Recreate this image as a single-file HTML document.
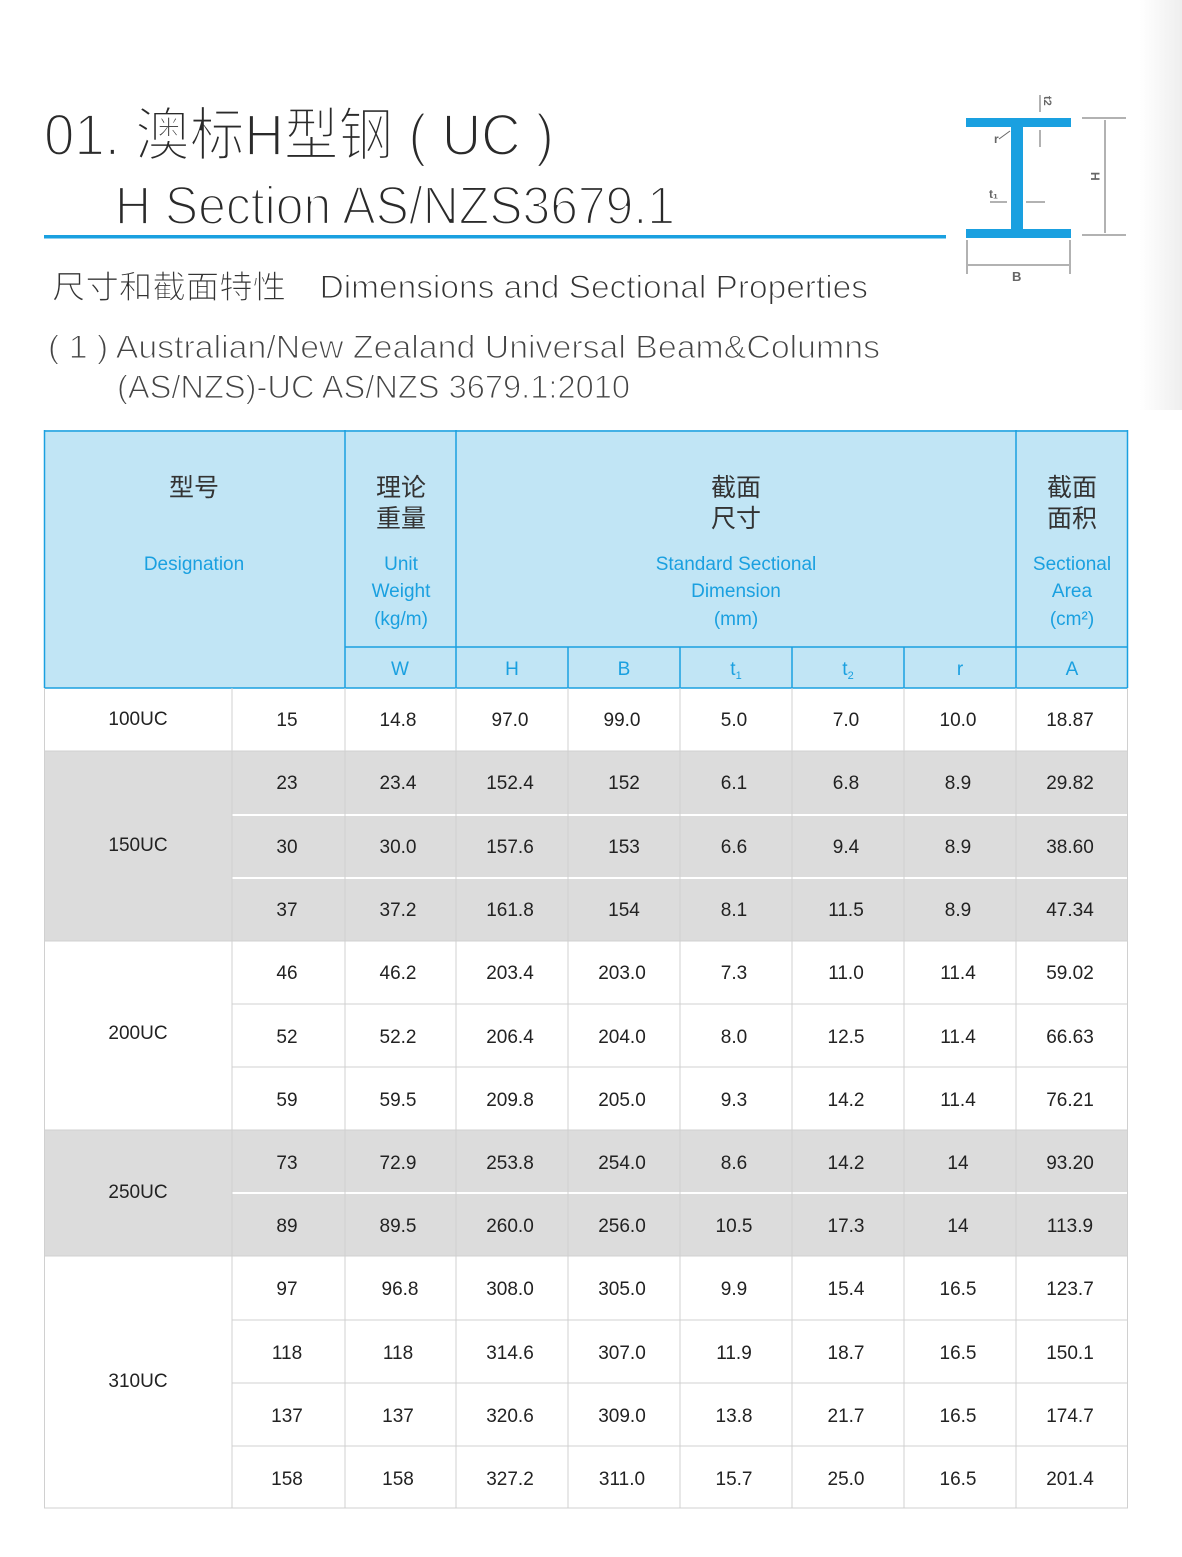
<!DOCTYPE html>
<html><head><meta charset="utf-8"><style>
html,body{margin:0;padding:0;background:#fff;}
svg{display:block;}
.t{font-family:"Liberation Sans","Noto Sans CJK SC",sans-serif;stroke:#fff;paint-order:normal;}
.d{font-family:"Liberation Sans",sans-serif;font-size:19px;fill:#222;text-anchor:middle;}
.b{font-family:"Liberation Sans",sans-serif;font-size:19px;fill:#1aa0e0;text-anchor:middle;}
.c{font-family:"Noto Sans CJK SC",sans-serif;font-size:25px;fill:#333;text-anchor:middle;}
</style></head><body>
<svg width="1182" height="1557" viewBox="0 0 1182 1557" xmlns="http://www.w3.org/2000/svg">
<defs><linearGradient id="g" x1="0" x2="1"><stop offset="0" stop-color="#fff"/><stop offset="1" stop-color="#eeeeee"/></linearGradient></defs>
<rect x="1140" y="0" width="42" height="410" fill="url(#g)"/>
<text class="t" x="44" y="155" font-size="58" fill="#2a2a2a" stroke-width="2.2" textLength="510" lengthAdjust="spacingAndGlyphs">01. 澳标H型钢 ( UC )</text>
<text class="t" x="115" y="224" font-size="54" fill="#2a2a2a" stroke-width="2.2" textLength="560" lengthAdjust="spacingAndGlyphs">H Section  AS/NZS3679.1</text>
<rect x="44" y="235" width="902" height="3.5" fill="#1aa0e0"/>
<text class="t" x="52" y="298" font-size="32" fill="#333" stroke-width="1.1" textLength="816" lengthAdjust="spacingAndGlyphs">尺寸和截面特性　Dimensions and Sectional Properties</text>
<text class="t" x="48" y="358" font-size="32" fill="#444" stroke-width="1.1" textLength="832" lengthAdjust="spacingAndGlyphs">( 1 ) Australian/New Zealand Universal Beam&amp;Columns</text>
<text class="t" x="117" y="398" font-size="32" fill="#444" stroke-width="1.1" textLength="513" lengthAdjust="spacingAndGlyphs">(AS/NZS)-UC  AS/NZS 3679.1:2010</text>
<rect x="966" y="118" width="105" height="9" fill="#1aa0e0"/>
<rect x="966" y="229" width="105" height="9" fill="#1aa0e0"/>
<rect x="1011" y="126" width="12" height="104" fill="#1aa0e0"/>
<g stroke="#666" stroke-width="1" fill="none">
<line x1="1082" y1="118" x2="1126" y2="118"/><line x1="1082" y1="235" x2="1126" y2="235"/>
<line x1="1105" y1="120" x2="1105" y2="233"/>
<line x1="967" y1="240" x2="967" y2="274"/><line x1="1070" y1="240" x2="1070" y2="274"/>
<line x1="968" y1="265" x2="1069" y2="265"/>
<line x1="1040" y1="95" x2="1040" y2="112"/><line x1="1040" y1="130" x2="1040" y2="147"/>
<line x1="990" y1="202" x2="1007" y2="202"/><line x1="1026" y1="202" x2="1045" y2="202"/>
<line x1="999" y1="139" x2="1010" y2="131"/>
</g>
<text x="1012" y="281" font-family="Liberation Sans" font-weight="bold" font-size="13" fill="#666">B</text>
<text x="994" y="143" font-family="Liberation Sans" font-weight="bold" font-size="12" fill="#666">r</text>
<text x="989" y="198" font-family="Liberation Sans" font-weight="bold" font-size="12" fill="#666">t₁</text>
<text x="0" y="0" font-family="Liberation Sans" font-weight="bold" font-size="12" fill="#666" transform="translate(1091,172) rotate(90)">H</text>
<text x="0" y="0" font-family="Liberation Sans" font-weight="bold" font-size="11" fill="#666" transform="translate(1044,96) rotate(90)">t2</text>
<rect x="44" y="430" width="1084" height="258" fill="#c1e5f5"/>
<g stroke="#1aa0e0" stroke-width="1.5">
<line x1="44" y1="431" x2="1128" y2="431"/><line x1="44" y1="688" x2="1128" y2="688"/>
<line x1="345" y1="647" x2="1128" y2="647"/>
<line x1="44.5" y1="430" x2="44.5" y2="688"/><line x1="1127.5" y1="430" x2="1127.5" y2="688"/>
<line x1="345" y1="430" x2="345" y2="688"/><line x1="456" y1="430" x2="456" y2="688"/><line x1="1016" y1="430" x2="1016" y2="688"/>
<line x1="568" y1="647" x2="568" y2="688"/><line x1="680" y1="647" x2="680" y2="688"/><line x1="792" y1="647" x2="792" y2="688"/><line x1="904" y1="647" x2="904" y2="688"/>
</g>
<text class="c" x="194" y="496">型号</text>
<text class="b" x="194" y="570">Designation</text>
<text class="c" x="401" y="496">理论</text><text class="c" x="401" y="527">重量</text>
<text class="b" x="401" y="570">Unit</text><text class="b" x="401" y="597">Weight</text><text class="b" x="401" y="625">(kg/m)</text>
<text class="c" x="736" y="496">截面</text><text class="c" x="736" y="527">尺寸</text>
<text class="b" x="736" y="570">Standard Sectional</text><text class="b" x="736" y="597">Dimension</text><text class="b" x="736" y="625">(mm)</text>
<text class="c" x="1072" y="496">截面</text><text class="c" x="1072" y="527">面积</text>
<text class="b" x="1072" y="570">Sectional</text><text class="b" x="1072" y="597">Area</text><text class="b" x="1072" y="625">(cm²)</text>
<text class="b" x="400" y="675">W</text><text class="b" x="512" y="675">H</text><text class="b" x="624" y="675">B</text>
<text class="b" x="736" y="675">t<tspan font-size="11" dy="4">1</tspan></text>
<text class="b" x="848" y="675">t<tspan font-size="11" dy="4">2</tspan></text>
<text class="b" x="960" y="675">r</text><text class="b" x="1072" y="675">A</text>
<rect x="44" y="751" width="1084" height="190" fill="#dcdcdc"/>
<rect x="44" y="1130" width="1084" height="126" fill="#dcdcdc"/>
<g stroke="#d0d0d0" stroke-width="1">
<line x1="232" y1="815" x2="1128" y2="815" stroke="#fff" stroke-width="2"/>
<line x1="232" y1="878" x2="1128" y2="878" stroke="#fff" stroke-width="2"/>
<line x1="232" y1="1193" x2="1128" y2="1193" stroke="#fff" stroke-width="2"/>
<line x1="44" y1="751" x2="1128" y2="751"/><line x1="44" y1="941" x2="1128" y2="941"/>
<line x1="232" y1="1004" x2="1128" y2="1004"/><line x1="232" y1="1067" x2="1128" y2="1067"/>
<line x1="44" y1="1130" x2="1128" y2="1130"/><line x1="44" y1="1256" x2="1128" y2="1256"/>
<line x1="232" y1="1320" x2="1128" y2="1320"/><line x1="232" y1="1383" x2="1128" y2="1383"/><line x1="232" y1="1446" x2="1128" y2="1446"/>
<line x1="44" y1="1508" x2="1128" y2="1508"/>
<line x1="44.5" y1="688" x2="44.5" y2="1508"/><line x1="1127.5" y1="688" x2="1127.5" y2="1508"/>
<line x1="232" y1="688" x2="232" y2="1508"/><line x1="345" y1="688" x2="345" y2="1508"/><line x1="456" y1="688" x2="456" y2="1508"/>
<line x1="568" y1="688" x2="568" y2="1508"/><line x1="680" y1="688" x2="680" y2="1508"/><line x1="792" y1="688" x2="792" y2="1508"/>
<line x1="904" y1="688" x2="904" y2="1508"/><line x1="1016" y1="688" x2="1016" y2="1508"/>
</g>
<text class="d" x="138" y="725">100UC</text><text class="d" x="138" y="851">150UC</text><text class="d" x="138" y="1039">200UC</text><text class="d" x="138" y="1198">250UC</text><text class="d" x="138" y="1387">310UC</text>
<g>
<text class="d" y="726"><tspan x="287">15</tspan><tspan x="398">14.8</tspan><tspan x="510">97.0</tspan><tspan x="622">99.0</tspan><tspan x="734">5.0</tspan><tspan x="846">7.0</tspan><tspan x="958">10.0</tspan><tspan x="1070">18.87</tspan></text>
<text class="d" y="789"><tspan x="287">23</tspan><tspan x="398">23.4</tspan><tspan x="510">152.4</tspan><tspan x="624">152</tspan><tspan x="734">6.1</tspan><tspan x="846">6.8</tspan><tspan x="958">8.9</tspan><tspan x="1070">29.82</tspan></text>
<text class="d" y="853"><tspan x="287">30</tspan><tspan x="398">30.0</tspan><tspan x="510">157.6</tspan><tspan x="624">153</tspan><tspan x="734">6.6</tspan><tspan x="846">9.4</tspan><tspan x="958">8.9</tspan><tspan x="1070">38.60</tspan></text>
<text class="d" y="916"><tspan x="287">37</tspan><tspan x="398">37.2</tspan><tspan x="510">161.8</tspan><tspan x="624">154</tspan><tspan x="734">8.1</tspan><tspan x="846">11.5</tspan><tspan x="958">8.9</tspan><tspan x="1070">47.34</tspan></text>
<text class="d" y="979"><tspan x="287">46</tspan><tspan x="398">46.2</tspan><tspan x="510">203.4</tspan><tspan x="622">203.0</tspan><tspan x="734">7.3</tspan><tspan x="846">11.0</tspan><tspan x="958">11.4</tspan><tspan x="1070">59.02</tspan></text>
<text class="d" y="1043"><tspan x="287">52</tspan><tspan x="398">52.2</tspan><tspan x="510">206.4</tspan><tspan x="622">204.0</tspan><tspan x="734">8.0</tspan><tspan x="846">12.5</tspan><tspan x="958">11.4</tspan><tspan x="1070">66.63</tspan></text>
<text class="d" y="1106"><tspan x="287">59</tspan><tspan x="398">59.5</tspan><tspan x="510">209.8</tspan><tspan x="622">205.0</tspan><tspan x="734">9.3</tspan><tspan x="846">14.2</tspan><tspan x="958">11.4</tspan><tspan x="1070">76.21</tspan></text>
<text class="d" y="1169"><tspan x="287">73</tspan><tspan x="398">72.9</tspan><tspan x="510">253.8</tspan><tspan x="622">254.0</tspan><tspan x="734">8.6</tspan><tspan x="846">14.2</tspan><tspan x="958">14</tspan><tspan x="1070">93.20</tspan></text>
<text class="d" y="1232"><tspan x="287">89</tspan><tspan x="398">89.5</tspan><tspan x="510">260.0</tspan><tspan x="622">256.0</tspan><tspan x="734">10.5</tspan><tspan x="846">17.3</tspan><tspan x="958">14</tspan><tspan x="1070">113.9</tspan></text>
<text class="d" y="1295"><tspan x="287">97</tspan><tspan x="400">96.8</tspan><tspan x="510">308.0</tspan><tspan x="622">305.0</tspan><tspan x="734">9.9</tspan><tspan x="846">15.4</tspan><tspan x="958">16.5</tspan><tspan x="1070">123.7</tspan></text>
<text class="d" y="1359"><tspan x="287">118</tspan><tspan x="398">118</tspan><tspan x="510">314.6</tspan><tspan x="622">307.0</tspan><tspan x="734">11.9</tspan><tspan x="846">18.7</tspan><tspan x="958">16.5</tspan><tspan x="1070">150.1</tspan></text>
<text class="d" y="1422"><tspan x="287">137</tspan><tspan x="398">137</tspan><tspan x="510">320.6</tspan><tspan x="622">309.0</tspan><tspan x="734">13.8</tspan><tspan x="846">21.7</tspan><tspan x="958">16.5</tspan><tspan x="1070">174.7</tspan></text>
<text class="d" y="1485"><tspan x="287">158</tspan><tspan x="398">158</tspan><tspan x="510">327.2</tspan><tspan x="622">311.0</tspan><tspan x="734">15.7</tspan><tspan x="846">25.0</tspan><tspan x="958">16.5</tspan><tspan x="1070">201.4</tspan></text>
</g>
</svg>
</body></html>
